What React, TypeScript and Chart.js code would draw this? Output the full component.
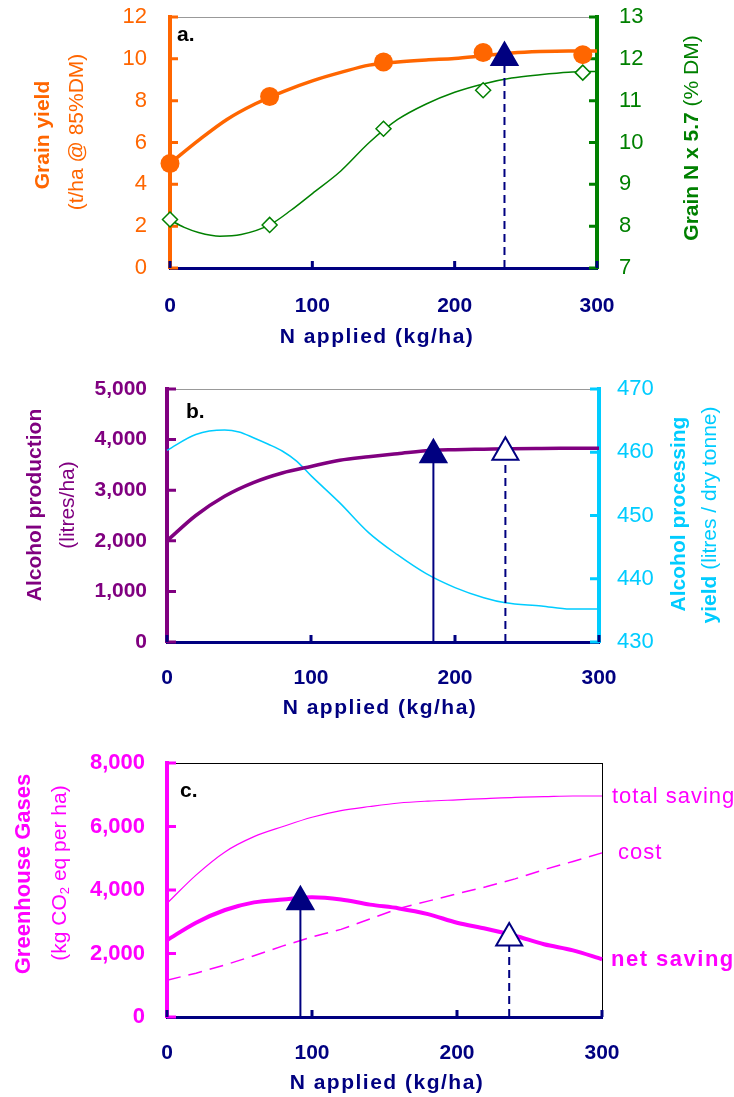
import React, { useEffect, useRef } from 'react';
import { Chart, registerables } from 'chart.js';
Chart.register(...registerables);

const FAMILY = '"Liberation Sans", Arial, Helvetica, sans-serif';
const ORANGE = '#FF6600';
const GREEN = '#008000';
const NAVY = '#000080';
const PURPLE = '#800080';
const CYAN = '#00CCFF';
const MAGENTA = '#FF00FF';
const W = 734;

// ---------- Panel a ----------
const nObserved = [0, 70, 150, 220, 290];
const grainYieldObserved = [5.0, 8.2, 9.85, 10.3, 10.2];
const grainNObserved = [8.16, 8.03, 10.33, 11.25, 11.67];
const yieldFitN = [0, 20, 40, 60, 80, 100, 120, 140, 160, 180, 200, 220, 240, 260, 280, 300];
const yieldFit = [5.0, 6.1, 7.1, 7.85, 8.45, 8.95, 9.35, 9.7, 9.85, 9.95, 10.02, 10.15, 10.28, 10.35, 10.38, 10.38];
const grainNFitN = [0, 10, 20, 35, 50, 70, 85, 100, 120, 140, 160, 180, 200, 220, 240, 260, 280, 300];
const grainNFit = [8.15, 7.97, 7.85, 7.76, 7.8, 8.03, 8.38, 8.78, 9.32, 10.0, 10.55, 10.92, 11.2, 11.4, 11.54, 11.62, 11.68, 11.7];
const optimumA = [235, 10.06]; // N, grain yield

// ---------- Panel b ----------
const alcoholN = [0, 20, 40, 60, 80, 100, 120, 140, 160, 185, 200, 220, 240, 260, 280, 300];
const alcoholProduction = [2000, 2500, 2880, 3150, 3340, 3470, 3590, 3660, 3720, 3790, 3800, 3810, 3820, 3825, 3828, 3830];
const processingN = [0, 20, 40, 50, 60, 70, 80, 90, 100, 120, 140, 160, 180, 200, 220, 235, 260, 280, 300];
const processingYield = [460.3, 462.8, 463.5, 463.2, 462.3, 461.3, 460.2, 458.6, 456.3, 452.0, 447.3, 443.8, 440.8, 438.6, 437.0, 436.2, 435.7, 435.2, 435.2];
const optimumBFilled = [185, 3700];
const optimumBOpen = [235, 3750];

// ---------- Panel c ----------
const ghgN = [0, 20, 40, 60, 80, 100, 120, 140, 160, 180, 200, 220, 240, 260, 280, 300];
const totalSaving = [3580, 4470, 5200, 5680, 6000, 6290, 6500, 6630, 6740, 6800, 6840, 6880, 6920, 6940, 6960, 6960];
const ghgCost = [1160, 1380, 1640, 1930, 2240, 2520, 2760, 3090, 3420, 3650, 3880, 4100, 4350, 4640, 4900, 5170];
const netSaving = [2420, 2970, 3370, 3610, 3700, 3770, 3700, 3540, 3420, 3240, 2970, 2780, 2560, 2290, 2100, 1820];
const optimumCFilled = [92, 3630];
const optimumCOpen = [236, 2490];

const pts = (xs: number[], ys: number[]) => xs.map((x, i) => ({ x, y: ys[i] }));
const fmt = (v: any) => Number(v).toLocaleString('en-US');

type Seg = { t: string; w?: string; s?: number; dy?: number };
type Txt = { segs: Seg[]; x: number; y: number; color: string; rot?: boolean; align?: 'left' | 'center'; ls?: number };

function drawTxt(ctx: CanvasRenderingContext2D, tx: Txt, offY: number) {
  ctx.save();
  ctx.fillStyle = tx.color;
  ctx.textBaseline = 'middle';
  ctx.textAlign = 'left';
  (ctx as any).letterSpacing = (tx.ls || 0) + 'px';
  const fonts = tx.segs.map((s) => `${s.w || 'normal'} ${s.s || 21}px ${FAMILY}`);
  let total = 0;
  tx.segs.forEach((s, i) => {
    ctx.font = fonts[i];
    total += ctx.measureText(s.t).width;
  });
  ctx.translate(tx.x, tx.y - offY);
  if (tx.rot) ctx.rotate(-Math.PI / 2);
  let x = tx.align === 'left' ? 0 : -total / 2;
  tx.segs.forEach((s, i) => {
    ctx.font = fonts[i];
    ctx.fillText(s.t, x, s.dy || 0);
    x += ctx.measureText(s.t).width;
  });
  ctx.restore();
}

type InnerTick = { id: string; color: string; side: 'left' | 'right' | 'bottom'; len: number; width: number };
type Decor = { top: number; frameColor: string; rightFrame?: boolean; ticks: InnerTick[]; texts: Txt[] };

function decorPlugin(d: Decor) {
  return {
    id: 'decor',
    beforeDatasetsDraw(chart: any) {
      const { ctx, chartArea: a, scales } = chart;
      ctx.save();
      ctx.strokeStyle = d.frameColor;
      ctx.lineWidth = 1;
      ctx.beginPath();
      ctx.moveTo(a.left, a.top + 0.5);
      ctx.lineTo(a.right, a.top + 0.5);
      if (d.rightFrame) {
        ctx.moveTo(a.right + 0.5, a.top);
        ctx.lineTo(a.right + 0.5, a.bottom);
      }
      ctx.stroke();
      for (const tk of d.ticks) {
        const sc = scales[tk.id];
        ctx.strokeStyle = tk.color;
        ctx.lineWidth = tk.width;
        ctx.beginPath();
        for (const t of sc.ticks) {
          const p = sc.getPixelForValue(t.value);
          if (tk.side === 'left') {
            ctx.moveTo(a.left, p);
            ctx.lineTo(a.left + tk.len, p);
          } else if (tk.side === 'right') {
            ctx.moveTo(a.right, p);
            ctx.lineTo(a.right - tk.len, p);
          } else {
            ctx.moveTo(p, a.bottom);
            ctx.lineTo(p, a.bottom - tk.len);
          }
        }
        ctx.stroke();
      }
      ctx.restore();
    },
    afterDraw(chart: any) {
      for (const t of d.texts) drawTxt(chart.ctx, t, d.top);
    },
  };
}

const zeroPad = (s: any) => {
  s.paddingTop = 0;
  s.paddingBottom = 0;
  s.paddingLeft = 0;
  s.paddingRight = 0;
};

function xScale(h: number, bottomLocal: number, padding: number) {
  return {
    type: 'linear',
    position: 'bottom',
    min: 0,
    max: 300,
    ticks: { stepSize: 100, color: NAVY, font: { family: FAMILY, size: 21, weight: 'bold' }, padding },
    grid: { display: false, drawTicks: false },
    border: { display: true, color: NAVY, width: 3 },
    afterFit: (s: any) => {
      s.height = h - bottomLocal;
      zeroPad(s);
    },
  };
}

function yScale(position: string, min: number, max: number, step: number, color: string, bold: boolean, size: number, padding: number, width: number, useFmt: boolean) {
  return {
    type: 'linear',
    position,
    min,
    max,
    ticks: {
      stepSize: step,
      color,
      font: { family: FAMILY, size, weight: bold ? 'bold' : 'normal' },
      padding,
      callback: useFmt ? fmt : (v: any) => String(v),
    },
    grid: { display: false, drawTicks: false },
    border: { display: true, color, width: 4 },
    afterFit: (s: any) => {
      s.width = width;
      zeroPad(s);
    },
  };
}

function dropMarker(n: number, v: number, filled: boolean, dashed: boolean, yAxisID: string) {
  return {
    data: [{ x: n, y: 0 }, { x: n, y: v }],
    yAxisID,
    borderColor: NAVY,
    borderWidth: 2,
    borderDash: dashed ? [8, 5] : [],
    pointRadius: [0, 15],
    pointStyle: 'triangle',
    pointBackgroundColor: filled ? NAVY : '#FFFFFF',
    pointBorderColor: NAVY,
    pointBorderWidth: 2,
    clip: false,
    tension: 0,
  };
}

const baseOptions = (padding: any, scales: any) => ({
  responsive: false,
  animation: false,
  events: [],
  devicePixelRatio: 1,
  layout: { padding },
  plugins: { legend: { display: false }, tooltip: { enabled: false }, title: { display: false } },
  scales,
});

const xTitle = (x: number, y: number): Txt => ({
  segs: [{ t: 'N applied (kg/ha)', w: 'bold', s: 21 }],
  x,
  y,
  color: NAVY,
  ls: 1.5,
});

// Panel a config
function buildA(top: number, h: number) {
  const decor: Decor = {
    top,
    frameColor: '#999999',
    ticks: [
      { id: 'yL', color: ORANGE, side: 'left', len: 8, width: 3 },
      { id: 'yR', color: GREEN, side: 'right', len: 8, width: 3 },
      { id: 'x', color: NAVY, side: 'bottom', len: 7, width: 3 },
    ],
    texts: [
      { segs: [{ t: 'Grain yield', w: 'bold', s: 21 }], x: 43, y: 135, color: ORANGE, rot: true },
      { segs: [{ t: '(t/ha @ 85%DM)', s: 21 }], x: 77, y: 132, color: ORANGE, rot: true },
      { segs: [{ t: 'Grain N x 5.7', w: 'bold', s: 21 }, { t: ' (% DM)', s: 21 }], x: 692, y: 138, color: GREEN, rot: true },
      { segs: [{ t: 'a.', w: 'bold', s: 21 }], x: 177, y: 35, color: '#000000', align: 'left' },
      xTitle(377, 337),
    ],
  };
  return {
    type: 'line',
    data: {
      datasets: [
        dropMarker(optimumA[0], optimumA[1], true, true, 'yL'),
        {
          data: pts(nObserved, grainYieldObserved),
          yAxisID: 'yL',
          showLine: false,
          pointRadius: 9.5,
          pointStyle: 'circle',
          pointBackgroundColor: ORANGE,
          pointBorderColor: ORANGE,
          pointBorderWidth: 0,
          clip: false,
        },
        {
          data: pts(nObserved, grainNObserved),
          yAxisID: 'yR',
          showLine: false,
          pointRadius: 7.5,
          pointStyle: 'rectRot',
          pointBackgroundColor: '#FFFFFF',
          pointBorderColor: GREEN,
          pointBorderWidth: 1.5,
          clip: false,
        },
        {
          data: pts(yieldFitN, yieldFit),
          yAxisID: 'yL',
          borderColor: ORANGE,
          borderWidth: 3.5,
          pointRadius: 0,
          cubicInterpolationMode: 'monotone',
          clip: false,
        },
        {
          data: pts(grainNFitN, grainNFit),
          yAxisID: 'yR',
          borderColor: GREEN,
          borderWidth: 1.5,
          pointRadius: 0,
          cubicInterpolationMode: 'monotone',
          clip: false,
        },
      ],
    },
    options: baseOptions({ top: 15, left: 0, right: 0, bottom: 0 }, {
      x: xScale(h, 268 - top, 26),
      yL: yScale('left', 0, 12, 2, ORANGE, false, 22, 23, 170, false),
      yR: yScale('right', 7, 13, 1, GREEN, false, 22, 22, W - 597, false),
    }),
    plugins: [decorPlugin(decor)],
  };
}

// Panel b config
function buildB(top: number, h: number) {
  const decor: Decor = {
    top,
    frameColor: '#999999',
    ticks: [
      { id: 'yL', color: PURPLE, side: 'left', len: 9, width: 3 },
      { id: 'yR', color: CYAN, side: 'right', len: 9, width: 3 },
      { id: 'x', color: NAVY, side: 'bottom', len: 7, width: 3 },
    ],
    texts: [
      { segs: [{ t: 'Alcohol production', w: 'bold', s: 21 }], x: 35, y: 505, color: PURPLE, rot: true },
      { segs: [{ t: '(litres/ha)', s: 21 }], x: 68, y: 505, color: PURPLE, rot: true },
      { segs: [{ t: 'Alcohol processing', w: 'bold', s: 21 }], x: 679, y: 514, color: CYAN, rot: true },
      { segs: [{ t: 'yield', w: 'bold', s: 21 }, { t: ' (litres / dry tonne)', s: 21 }], x: 710, y: 515, color: CYAN, rot: true },
      { segs: [{ t: 'b.', w: 'bold', s: 21 }], x: 186, y: 412, color: '#000000', align: 'left' },
      xTitle(380, 708),
    ],
  };
  return {
    type: 'line',
    data: {
      datasets: [
        dropMarker(optimumBFilled[0], optimumBFilled[1], true, false, 'yL'),
        dropMarker(optimumBOpen[0], optimumBOpen[1], false, true, 'yL'),
        {
          data: pts(alcoholN, alcoholProduction),
          yAxisID: 'yL',
          borderColor: PURPLE,
          borderWidth: 3.5,
          pointRadius: 0,
          cubicInterpolationMode: 'monotone',
          clip: false,
        },
        {
          data: pts(processingN, processingYield),
          yAxisID: 'yR',
          borderColor: CYAN,
          borderWidth: 1.5,
          pointRadius: 0,
          cubicInterpolationMode: 'monotone',
          clip: false,
        },
      ],
    },
    options: baseOptions({ top: 389 - top, left: 0, right: 0, bottom: 0 }, {
      x: xScale(h, 642 - top, 24),
      yL: yScale('left', 0, 5000, 1000, PURPLE, true, 21, 20, 167, true),
      yR: yScale('right', 430, 470, 10, CYAN, false, 22, 18, W - 599, false),
    }),
    plugins: [decorPlugin(decor)],
  };
}

// Panel c config
function buildC(top: number, h: number) {
  const decor: Decor = {
    top,
    frameColor: '#000000',
    rightFrame: true,
    ticks: [
      { id: 'yL', color: MAGENTA, side: 'left', len: 9, width: 3 },
      { id: 'x', color: NAVY, side: 'bottom', len: 7, width: 3 },
    ],
    texts: [
      { segs: [{ t: 'Greenhouse Gases', w: 'bold', s: 22 }], x: 24, y: 874, color: MAGENTA, rot: true },
      {
        segs: [{ t: '(kg CO', s: 21 }, { t: '2', s: 13, dy: 5 }, { t: ' eq per ha)', s: 21 }],
        x: 60,
        y: 873,
        color: MAGENTA,
        rot: true,
      },
      { segs: [{ t: 'c.', w: 'bold', s: 21 }], x: 180, y: 791, color: '#000000', align: 'left' },
      { segs: [{ t: 'total saving', s: 22 }], x: 612, y: 797, color: MAGENTA, align: 'left', ls: 1 },
      { segs: [{ t: 'cost', s: 22 }], x: 618, y: 853, color: MAGENTA, align: 'left', ls: 1 },
      { segs: [{ t: 'net saving', w: 'bold', s: 22 }], x: 611, y: 960, color: MAGENTA, align: 'left', ls: 1.5 },
      xTitle(387, 1083),
    ],
  };
  return {
    type: 'line',
    data: {
      datasets: [
        dropMarker(optimumCFilled[0], optimumCFilled[1], true, false, 'yL'),
        dropMarker(optimumCOpen[0], optimumCOpen[1], false, true, 'yL'),
        {
          data: pts(ghgN, netSaving),
          yAxisID: 'yL',
          borderColor: MAGENTA,
          borderWidth: 4,
          pointRadius: 0,
          cubicInterpolationMode: 'monotone',
          clip: false,
        },
        {
          data: pts(ghgN, totalSaving),
          yAxisID: 'yL',
          borderColor: MAGENTA,
          borderWidth: 1.2,
          pointRadius: 0,
          cubicInterpolationMode: 'monotone',
          clip: false,
        },
        {
          data: pts(ghgN, ghgCost),
          yAxisID: 'yL',
          borderColor: MAGENTA,
          borderWidth: 1.5,
          borderDash: [14, 8],
          pointRadius: 0,
          tension: 0,
          clip: false,
        },
      ],
    },
    options: baseOptions({ top: 763 - top, left: 0, right: W - 602, bottom: 0 }, {
      x: xScale(h, 1017 - top, 24),
      yL: yScale('left', 0, 8000, 2000, MAGENTA, true, 22, 22, 167, true),
    }),
    plugins: [decorPlugin(decor)],
  };
}

function Panel({ top, height, build }: { top: number; height: number; build: (t: number, h: number) => any }) {
  const ref = useRef<HTMLCanvasElement>(null);
  useEffect(() => {
    const chart = new Chart(ref.current as HTMLCanvasElement, build(top, height));
    return () => chart.destroy();
  }, []);
  return (
    <canvas
      ref={ref}
      width={W}
      height={height}
      style={{ position: 'absolute', left: 0, top, width: W, height, display: 'block' }}
    />
  );
}

export default function App() {
  return (
    <div style={{ position: 'absolute', left: 0, top: 0, width: W, height: 1097, background: '#FFFFFF' }}>
      <Panel top={0} height={365} build={buildA} />
      <Panel top={365} height={375} build={buildB} />
      <Panel top={740} height={357} build={buildC} />
    </div>
  );
}
